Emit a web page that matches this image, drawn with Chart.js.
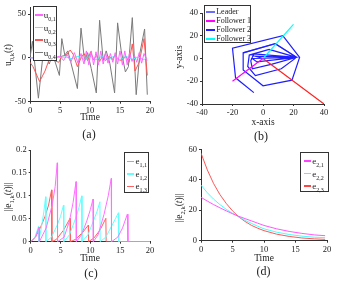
<!DOCTYPE html>
<html>
<head>
<meta charset="utf-8">
<script src="https://cdn.jsdelivr.net/npm/chart.js@4.4.1/dist/chart.umd.min.js"></script>
<style>
  body { margin: 0; background: #fff; }
  #wrap { position: relative; width: 347px; height: 283px; overflow: hidden; font-family: "Liberation Serif", serif; color: #222; }
  canvas { position: absolute; }
  .t { position: absolute; white-space: nowrap; transform: translate(-50%, -50%); font-size: 9.5px; line-height: 1; }
  .r { transform: translate(-50%, -50%) rotate(-90deg); }
  .cap { font-size: 12px; }
  .leg { position: absolute; background: #fff; border: 1px solid #333; box-sizing: border-box; }
  .leg div { position: absolute; white-space: nowrap; line-height: 1; }
  sub { font-size: 6.5px; vertical-align: -3px; line-height: 0; }
  .leg sub { font-size: 6px; }
</style>
</head>
<body>
<div id="wrap">
  <canvas id="ca" width="165" height="125" style="left:0;top:0"></canvas>
  <canvas id="cb" width="170" height="125" style="left:172px;top:0"></canvas>
  <canvas id="cc" width="165" height="125" style="left:0;top:140px"></canvas>
  <canvas id="cd" width="170" height="125" style="left:172px;top:140px"></canvas>

  <div class="t r" style="left:8.5px;top:55px">u<sub>0,k</sub>(<i>t</i>)</div>
  <div class="t" style="left:90px;top:118px">Time</div>
  <div class="t cap" style="left:89px;top:134px">(a)</div>

  <div class="t r" style="left:180px;top:57px">y-axis</div>
  <div class="t" style="left:263px;top:123px">x-axis</div>
  <div class="t cap" style="left:261px;top:135.5px">(b)</div>

  <div class="t r" style="left:9px;top:197px">||e<sub>1,k</sub>(<i>t</i>)||</div>
  <div class="t" style="left:90px;top:259px">Time</div>
  <div class="t cap" style="left:91px;top:273px">(c)</div>

  <div class="t r" style="left:180px;top:208px">||e<sub>2,k</sub>(<i>t</i>)||</div>
  <div class="t" style="left:264px;top:259px">Time</div>
  <div class="t cap" style="left:263.5px;top:271px">(d)</div>
</div>
<script>
// (a) control inputs u_{0,k}(t)
const tU1 = [0, 1, 2, 3, 4, 5, 5.6, 6.2, 6.8, 7.4, 8.0, 8.5, 9.0, 9.4, 9.8, 10.2, 10.6, 11.0, 11.4, 11.8, 12.2, 12.6, 13.0, 13.4, 13.8, 14.2, 14.6, 15.0, 15.4, 15.8, 16.2, 16.6, 17.0, 17.4, 17.8, 18.2, 18.6, 19.0, 19.5];
const u01 = [0, 0, 1, -1, 0, 2, -3, 4, -5, 6, -6, 5, -7, 8, -8, 8, -8, 7, -8, 8, -7, 6, -6, 5, -5, 6, -7, 8, -8, 8, -8, 6, -4, 3, -5, 6, -6, 5, -3];
const tU2 = [0, 2, 4, 6, 7, 8, 9, 10, 11, 12, 13, 14, 15, 16, 17, 18, 19, 19.5];
const u02 = [0, 0, 0, 1, -1, 2, -2, 2, -2, 2, -2, 2, -2, 2, -2, 1, -2, 1];
const tU3 = [0, 0.5, 1.6, 2.5, 3.3, 4.0, 4.8, 5.3, 6.0, 6.7, 7.2, 7.9, 8.5, 9.0, 9.6, 10.1, 10.6, 11.1, 11.6, 12.1, 12.6, 13.2, 13.7, 14.2, 14.7, 15.3, 16.0, 16.5, 17.05, 17.5, 18.2, 19.0, 19.55];
const u03 = [-5, -10, -27, -15, 0, -3, -5, 2, 3, 9, 4, -10, 0, 5, -3, 7, -2, 3, -4, 2, -3, 2, -2, 3, -2, -3, 2, -5, 16, -15, -5, 22, -20];
const tU4 = [0, 0.4, 1.4, 2.3, 3.2, 3.8, 4.9, 5.3, 5.8, 6.3, 6.8, 7.9, 8.5, 9.1, 9.6, 10.2, 11.05, 11.6, 12.2, 12.7, 13.3, 14.1, 14.6, 15.2, 15.9, 16.4, 17.05, 17.7, 18.3, 19.1, 19.55];
const u04 = [0, 19, -46, 12, -7, 4, -20, 22, 3, 8, -5, -35, 34, -4, 6, -12, -40, 43, -3, 8, -6, -40, 40, 8, -16, -10, 46, -42, 5, 33, -42];

// (b) trajectories
const leadX = [-13, 8, 22];
const leadY = [5, 13, 1];
const f1X = [-20, 0];
const f1Y = [-20, 0];
const f2X = [-6, -18, -20, 13, 24, 19, 0, -13, -13, 8, 22, 12, -5, -10, -9, 4, 22, 6, -7, -8, -6, 22, -4, -7, 22, -5, 0];
const f2Y = [-30, -17, 9, 20, 1, -19, -24, -10, 5, 13, 1, -9, -15, -7, 3, 8, 1, -5, -9, -2, 4, 1, -3, 0, 1, 2, 0];
const f3X = [0, 20];
const f3Y = [0, 30];
const rX = [0, 40];
const rY = [0, -40];

// (c) ||e_{1,k}(t)||
const tE11 = [0, 0.8, 1.4, 1.45, 2.6, 3.6, 4.1, 4.45, 4.5, 5.6, 6.5, 7.1, 7.6, 7.65, 8.5, 9.4, 10.0, 10.45, 10.5, 11.3, 12.3, 13.0, 13.5, 13.55, 14.6, 15.4, 16.2, 16.3, 20];
const e11 = [0, 0.01, 0.032, 0, 0.03, 0.08, 0.12, 0.172, 0, 0.01, 0.045, 0.085, 0.131, 0, 0.015, 0.045, 0.07, 0.093, 0, 0.015, 0.06, 0.1, 0.138, 0, 0.01, 0.03, 0.06, 0, 0];
const tE12 = [0, 0.7, 1.3, 1.35, 1.9, 2.2, 2.5, 2.55, 3.5, 4.4, 5.0, 5.5, 5.55, 6.5, 7.5, 8.1, 8.55, 8.6, 9.6, 10.5, 11.1, 11.6, 11.65, 12.6, 13.6, 14.2, 14.7, 14.75, 20];
const e12 = [0, 0.01, 0.033, 0, 0.04, 0.065, 0.098, 0, 0.01, 0.035, 0.055, 0.08, 0, 0.015, 0.05, 0.075, 0.1, 0, 0.015, 0.045, 0.065, 0.087, 0, 0.01, 0.035, 0.05, 0.063, 0, 0];
const tE13 = [0, 0.8, 1.6, 2.4, 3.0, 3.5, 3.55, 4.3, 5.5, 6.6, 6.65, 7.5, 8.7, 9.65, 9.7, 10.6, 11.6, 12.6, 12.65, 20];
const e13 = [0, 0.01, 0.03, 0.055, 0.08, 0.113, 0, 0.005, 0.025, 0.051, 0, 0.005, 0.02, 0.036, 0, 0.008, 0.025, 0.051, 0, 0];

// (d) ||e_{2,k}(t)||
const tE2 = [0, 1, 2, 3, 4, 5, 6, 7, 8, 9, 10, 12, 14, 16, 18, 19.7];
const e21 = [28.5, 26, 23.7, 21.6, 19.6, 17.7, 16, 14.5, 13, 11.5, 10, 7.8, 6.1, 4.8, 3.8, 3.3];
const e22 = [36.5, 31.5, 27.3, 23.7, 20.6, 18, 15.6, 13.4, 11.4, 9.5, 7.8, 5.6, 4.1, 3, 2.3, 2];
const e23 = [57.5, 46.5, 37.5, 30.3, 24.5, 19.6, 15.6, 12.6, 10.1, 8.2, 6.6, 4.3, 2.8, 1.8, 1.2, 0.9];

const pts = (xs, ys) => xs.map((x, i) => ({ x: x, y: ys[i] }));

const tickFont = { family: 'Liberation Serif', size: 8.5 };

function axis(min, max, vals, size, isX) {
  return {
    type: 'linear', min: min, max: max,
    afterBuildTicks: s => { s.ticks = vals.map(v => ({ value: v })); },
    afterFit: s => { if (isX) s.height = size; else s.width = size; },
    grid: { drawOnChartArea: false, tickLength: 2, color: '#333' },
    border: { color: '#333', width: 1 },
    ticks: { font: tickFont, color: '#222', padding: 2, maxRotation: 0, autoSkip: false, callback: v => String(v) }
  };
}

function line(data, color, width, order) {
  return { data: data, showLine: true, borderColor: color, backgroundColor: color, borderWidth: width, pointRadius: 0, order: order };
}

function makeChart(id, datasets, pad, xs, ys) {
  return new Chart(document.getElementById(id), {
    type: 'scatter',
    data: { datasets: datasets },
    options: {
      responsive: false, animation: false, devicePixelRatio: 1,
      layout: { padding: { top: pad[0], right: pad[1], left: 0, bottom: 0 } },
      plugins: { legend: { display: false }, tooltip: { enabled: false } },
      scales: { x: xs, y: ys }
    }
  });
}

const colA = ['#ff66ff', '#33ffff', '#ff5555', '#7a7a7a'];
const chartA = makeChart('ca', [
  line(pts(tU4, u04), colA[3], 1, 4),
  line(pts(tU3, u03), colA[2], 1, 3),
  line(pts(tU2, u02), colA[1], 1, 2),
  line(pts(tU1, u01), colA[0], 1, 1)
], [5, 15], axis(0, 20, [0, 5, 10, 15, 20], 23.3, true), axis(-50, 58, [-50, 0, 50], 30, false));

const colB = ['#6b6bff', '#ff00ff', '#1e1eff', '#00ffff', '#ff2020'];
const chartB = makeChart('cb', [
  line(pts(leadX, leadY), colB[0], 1.2, 5),
  line(pts(f2X, f2Y), colB[2], 1.2, 4),
  line(pts(f1X, f1Y), colB[1], 1.2, 3),
  line(pts(f3X, f3Y), colB[3], 1.2, 2),
  line(pts(rX, rY), colB[4], 1.2, 1)
], [13, 18], axis(-40, 40, [-40, -20, 0, 20, 40], 21, true), axis(-40, 40, [-40, -20, 0, 20, 40], 30, false));

const colC = ['#ff70ff', '#66ffff', '#ff6060'];
const chartC = makeChart('cc', [
  line(pts(tE13, e13), colC[2], 1, 3),
  line(pts(tE12, e12), colC[1], 1, 2),
  line(pts(tE11, e11), colC[0], 1, 1)
], [10, 15], axis(0, 20, [0, 5, 10, 15, 20], 23.3, true), axis(0, 0.2, [0, 0.05, 0.1, 0.15, 0.2], 30.7, false));

const colD = ['#ff44ff', '#33ffff', '#ff4444'];
const chartD = makeChart('cd', [
  line(pts(tE2, e23), colD[2], 0.9, 3),
  line(pts(tE2, e22), colD[1], 0.9, 2),
  line(pts(tE2, e21), colD[0], 0.9, 1)
], [9.3, 15], axis(0, 20, [0, 5, 10, 15, 20], 24.3, true), axis(0, 60, [0, 20, 40, 60], 29, false));

// legends with subscripts, drawn as html boxes
function addLegend(box, rows, o) {
  const d = document.createElement('div');
  d.className = 'leg';
  Object.assign(d.style, { left: box[0] + 'px', top: box[1] + 'px', width: box[2] + 'px', height: box[3] + 'px' });
  rows.forEach((r, i) => {
    const cy = o.y0 + i * o.dy;
    const ln = document.createElement('div');
    Object.assign(ln.style, { left: o.lx + 'px', top: (cy - o.lw / 2) + 'px', width: o.len + 'px', height: o.lw + 'px', background: r.color });
    const tx = document.createElement('div');
    Object.assign(tx.style, { left: o.tx + 'px', top: cy + 'px', transform: 'translateY(-50%)', fontSize: o.fs + 'px' });
    tx.innerHTML = r.text;
    d.appendChild(ln);
    d.appendChild(tx);
  });
  document.getElementById('wrap').appendChild(d);
}

addLegend([32.7, 6, 24.5, 55], [
  { color: colA[0], text: 'u<sub>0,1</sub>' },
  { color: colA[1], text: 'u<sub>0,2</sub>' },
  { color: colA[2], text: 'u<sub>0,3</sub>' },
  { color: colA[3], text: 'u<sub>0,4</sub>' }
], { y0: 8, dy: 12.5, lx: 1, len: 8, lw: 1.2, tx: 10, fs: 9 });

addLegend([203.7, 5, 47.6, 38], [
  { color: colB[0], text: 'Leader' },
  { color: colB[1], text: 'Follower 1' },
  { color: colB[2], text: 'Follower 2' },
  { color: colB[3], text: 'Follower 3' }
], { y0: 6, dy: 9, lx: 1.5, len: 8.5, lw: 2, tx: 11.5, fs: 8 });

addLegend([124, 151.7, 24.5, 41.6], [
  { color: colC[0], text: 'e<sub>1,1</sub>' },
  { color: colC[1], text: 'e<sub>1,2</sub>' },
  { color: colC[2], text: 'e<sub>1,3</sub>' }
], { y0: 8.8, dy: 12.5, lx: 2, len: 7.3, lw: 1.5, tx: 10.5, fs: 9 });

addLegend([300.3, 151.7, 28.4, 40.6], [
  { color: colD[0], text: 'e<sub>2,1</sub>' },
  { color: colD[1], text: 'e<sub>2,2</sub>' },
  { color: colD[2], text: 'e<sub>2,3</sub>' }
], { y0: 8.5, dy: 12.5, lx: 2.4, len: 7.6, lw: 1.5, tx: 11, fs: 9 });
</script>
</body>
</html>
